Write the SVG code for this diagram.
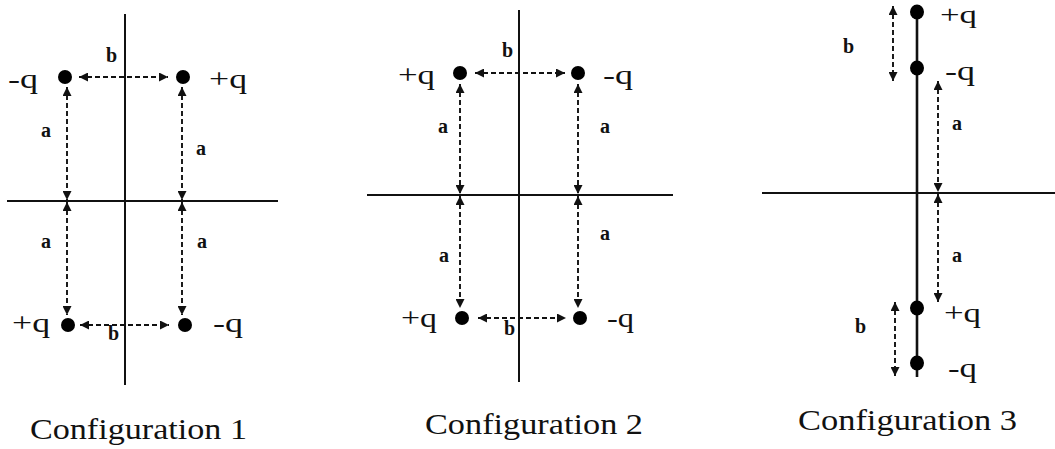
<svg xmlns="http://www.w3.org/2000/svg" width="1055" height="449" viewBox="0 0 1055 449">
<style>
.axis{stroke:#111;stroke-width:2;fill:none}
.dim{stroke:#111;stroke-width:1.9;stroke-dasharray:5 3;fill:none;marker-start:url(#ah);marker-end:url(#ah)}
.dot{fill:#000}
.q{font-family:"Liberation Serif","Times New Roman",serif;font-size:28px;fill:#111}
.lbl{font-family:"Liberation Serif","Times New Roman",serif;font-size:20px;font-weight:bold;fill:#111}
.cap{font-family:"Liberation Serif","Times New Roman",serif;font-size:30px;fill:#111}
</style>
<defs>
<marker id="ah" viewBox="0 0 10 10" refX="10" refY="5" markerWidth="9" markerHeight="9" markerUnits="userSpaceOnUse" orient="auto-start-reverse">
<path d="M0,0 L10,5 L0,10 Z" fill="#111"/>
</marker>
</defs>
<rect width="1055" height="449" fill="#fff"/>

<g id="axes">
<line class="axis" x1="125" y1="14" x2="125" y2="385"/>
<line class="axis" x1="7" y1="201" x2="278" y2="201"/>
<line class="axis" x1="519" y1="10" x2="519" y2="382"/>
<line class="axis" x1="367" y1="195" x2="673" y2="195"/>
<line class="axis" x1="917" y1="12" x2="917" y2="377" style="stroke-width:2.6"/>
<line class="axis" x1="762" y1="193" x2="1055" y2="193"/>
</g>

<g id="connectors">
<line class="dim" x1="79" y1="77" x2="168" y2="77"/>
<line class="dim" x1="67" y1="87" x2="67" y2="200"/>
<line class="dim" x1="67" y1="202" x2="67" y2="315"/>
<line class="dim" x1="182" y1="87" x2="182" y2="200"/>
<line class="dim" x1="182" y1="202" x2="182" y2="315"/>
<line class="dim" x1="80" y1="325" x2="169" y2="325"/>

<line class="dim" x1="475" y1="73" x2="565" y2="73"/>
<line class="dim" x1="460" y1="84" x2="460" y2="194"/>
<line class="dim" x1="460" y1="196" x2="460" y2="308"/>
<line class="dim" x1="578" y1="84" x2="578" y2="194"/>
<line class="dim" x1="578" y1="196" x2="578" y2="308"/>
<line class="dim" x1="478" y1="318" x2="566" y2="318"/>

<line class="dim" x1="893" y1="6" x2="893" y2="81"/>
<line class="dim" x1="895" y1="302" x2="895" y2="376"/>
<line class="dim" x1="938" y1="81" x2="938" y2="192"/>
<line class="dim" x1="938" y1="194" x2="938" y2="302"/>
</g>

<g id="config1">
<circle class="dot" cx="65" cy="77" r="7"/>
<circle class="dot" cx="183" cy="77" r="7"/>
<circle class="dot" cx="68" cy="325" r="7"/>
<circle class="dot" cx="185" cy="325" r="7"/>
<text class="q" x="8" y="88" textLength="30" lengthAdjust="spacingAndGlyphs">-q</text>
<text class="q" x="209" y="88" textLength="38" lengthAdjust="spacingAndGlyphs">+q</text>
<text class="q" x="12" y="332" textLength="38" lengthAdjust="spacingAndGlyphs">+q</text>
<text class="q" x="213" y="332" textLength="30" lengthAdjust="spacingAndGlyphs">-q</text>
<text class="lbl" x="106" y="62">b</text>
<text class="lbl" x="108" y="340">b</text>
<text class="lbl" x="41" y="137">a</text>
<text class="lbl" x="196" y="155">a</text>
<text class="lbl" x="41" y="248">a</text>
<text class="lbl" x="197" y="248">a</text>
<text class="cap" x="30" y="439" textLength="217" lengthAdjust="spacingAndGlyphs">Configuration 1</text>
</g>

<g id="config2">
<circle class="dot" cx="460" cy="73" r="7"/>
<circle class="dot" cx="578" cy="73" r="7"/>
<circle class="dot" cx="462" cy="318" r="7"/>
<circle class="dot" cx="580" cy="318" r="7"/>
<text class="q" x="398" y="84" textLength="37" lengthAdjust="spacingAndGlyphs">+q</text>
<text class="q" x="603" y="84" textLength="30" lengthAdjust="spacingAndGlyphs">-q</text>
<text class="q" x="401" y="327" textLength="36" lengthAdjust="spacingAndGlyphs">+q</text>
<text class="q" x="607" y="327" textLength="27" lengthAdjust="spacingAndGlyphs">-q</text>
<text class="lbl" x="502" y="57">b</text>
<text class="lbl" x="504" y="335">b</text>
<text class="lbl" x="438" y="133">a</text>
<text class="lbl" x="600" y="133">a</text>
<text class="lbl" x="439" y="262">a</text>
<text class="lbl" x="600" y="240">a</text>
<text class="cap" x="425" y="434" textLength="218" lengthAdjust="spacingAndGlyphs">Configuration 2</text>
</g>

<g id="config3">
<ellipse class="dot" cx="917" cy="12" rx="7" ry="7.5"/>
<ellipse class="dot" cx="917" cy="68" rx="7" ry="7.5"/>
<ellipse class="dot" cx="917" cy="308" rx="7" ry="7.5"/>
<ellipse class="dot" cx="917" cy="363" rx="7" ry="7.5"/>
<text class="q" x="940" y="23" style="font-size:25px" textLength="37" lengthAdjust="spacingAndGlyphs">+q</text>
<text class="q" x="945" y="80" textLength="30" lengthAdjust="spacingAndGlyphs">-q</text>
<text class="q" x="944" y="322" textLength="37" lengthAdjust="spacingAndGlyphs">+q</text>
<text class="q" x="948" y="377" textLength="29" lengthAdjust="spacingAndGlyphs">-q</text>
<text class="lbl" x="843" y="53">b</text>
<text class="lbl" x="855" y="333">b</text>
<text class="lbl" x="952" y="130">a</text>
<text class="lbl" x="952" y="262">a</text>
<text class="cap" x="798" y="430" textLength="219" lengthAdjust="spacingAndGlyphs">Configuration 3</text>
</g>
</svg>
